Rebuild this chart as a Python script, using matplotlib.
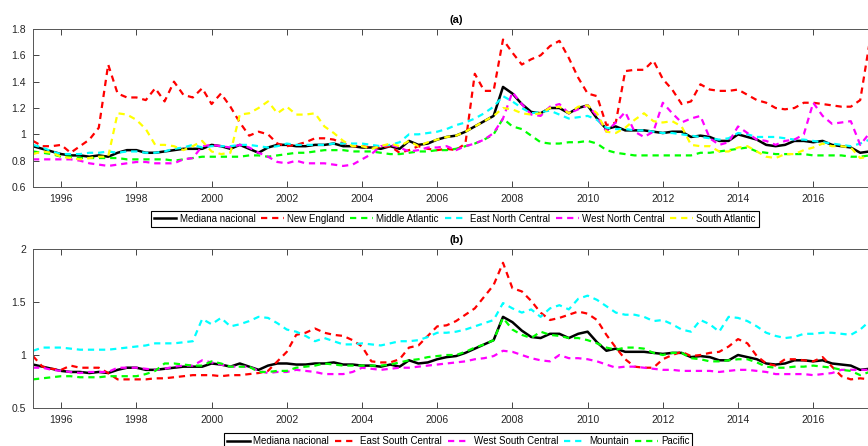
import numpy as np
import matplotlib
matplotlib.use("Agg")
import matplotlib.pyplot as plt
from matplotlib.ticker import FuncFormatter

plt.rcParams['font.family'] = ['Liberation Sans', 'DejaVu Sans']
plt.rcParams['lines.scale_dashes'] = False

# quarterly dates, 1995Q2 .. 2017Q3
trimestres = np.arange(1995.25, 2017.51, 0.25)

mediana = [0.91, 0.89, 0.87,
           0.85, 0.84, 0.84, 0.83,  0.84, 0.83, 0.86, 0.88,  0.88, 0.86, 0.86, 0.87,
           0.88, 0.89, 0.89, 0.89,  0.92, 0.91, 0.89, 0.92,  0.89, 0.86, 0.90, 0.92,
           0.92, 0.91, 0.91, 0.92,  0.92, 0.93, 0.91, 0.91,  0.90, 0.90, 0.89, 0.91,
           0.89, 0.95, 0.92, 0.93,  0.96, 0.98, 0.99, 1.02,  1.06, 1.10, 1.14, 1.36,
           1.31, 1.23, 1.17, 1.16,  1.20, 1.20, 1.16, 1.20,  1.22, 1.12, 1.04, 1.06,
           1.03, 1.03, 1.03, 1.02,  1.01, 1.02, 1.02, 0.98,  0.99, 0.98, 0.95, 0.95,
           1.00, 0.98, 0.96, 0.92,  0.91, 0.92, 0.95, 0.95,  0.94, 0.95, 0.92, 0.91,
           0.90, 0.86, 0.87]

# panel (a)
new_england = [0.95, 0.91, 0.91,
               0.92, 0.86, 0.91, 0.96,  1.05, 1.53, 1.31, 1.28,  1.28, 1.26, 1.35, 1.25,
               1.40, 1.30, 1.28, 1.35,  1.23, 1.31, 1.21, 1.09,  0.99, 1.02, 1.00, 0.93,
               0.91, 0.92, 0.94, 0.97,  0.97, 0.96, 0.93, 0.91,  0.91, 0.90, 0.90, 0.91,
               0.86, 0.88, 0.91, 0.89,  0.88, 0.89, 0.88, 0.93,  1.46, 1.33, 1.33, 1.72,
               1.62, 1.53, 1.57, 1.60,  1.67, 1.71, 1.58, 1.43,  1.31, 1.29, 1.07, 1.09,
               1.48, 1.49, 1.49, 1.56,  1.42, 1.34, 1.23, 1.25,  1.38, 1.34, 1.33, 1.33,
               1.34, 1.30, 1.26, 1.24,  1.20, 1.19, 1.20, 1.24,  1.24, 1.23, 1.22, 1.21,
               1.21, 1.26, 1.70]

middle_atlantic = [0.87, 0.86, 0.85,
                   0.83, 0.83, 0.82, 0.82,  0.82, 0.82, 0.82, 0.81,  0.81, 0.81, 0.81, 0.81,
                   0.80, 0.81, 0.82, 0.83,  0.83, 0.83, 0.83, 0.83,  0.84, 0.84, 0.83, 0.84,
                   0.85, 0.86, 0.86, 0.87,  0.88, 0.88, 0.88, 0.87,  0.87, 0.87, 0.86, 0.85,
                   0.85, 0.86, 0.87, 0.87,  0.88, 0.88, 0.89, 0.91,  0.93, 0.96, 1.00, 1.12,
                   1.06, 1.04, 0.99, 0.94,  0.93, 0.93, 0.94, 0.94,  0.95, 0.93, 0.88, 0.86,
                   0.85, 0.84, 0.84, 0.84,  0.84, 0.84, 0.84, 0.84,  0.86, 0.86, 0.87, 0.88,
                   0.89, 0.90, 0.87, 0.86,  0.85, 0.85, 0.85, 0.85,  0.84, 0.84, 0.84, 0.84,
                   0.83, 0.83, 0.84]

east_north_central = [0.92, 0.90, 0.87,
                      0.85, 0.85, 0.85, 0.86,  0.86, 0.87, 0.86, 0.87,  0.87, 0.86, 0.86, 0.87,
                      0.89, 0.90, 0.92, 0.90,  0.91, 0.91, 0.91, 0.92,  0.92, 0.91, 0.90, 0.91,
                      0.93, 0.92, 0.92, 0.92,  0.92, 0.93, 0.93, 0.93,  0.93, 0.92, 0.91, 0.92,
                      0.94, 1.00, 1.00, 1.01,  1.02, 1.04, 1.07, 1.09,  1.12, 1.16, 1.21, 1.29,
                      1.25, 1.20, 1.16, 1.17,  1.18, 1.15, 1.12, 1.13,  1.14, 1.11, 1.05, 1.04,
                      1.04, 1.03, 1.03, 1.02,  1.01, 1.01, 1.00, 0.99,  0.98, 0.97, 0.96, 0.97,
                      1.01, 1.00, 0.98, 0.98,  0.98, 0.97, 0.96, 0.96,  0.95, 0.94, 0.93, 0.92,
                      0.91, 0.93, 0.96]

west_north_central = [0.81, 0.81, 0.81,
                      0.81, 0.81, 0.80, 0.78,  0.77, 0.76, 0.77, 0.78,  0.79, 0.79, 0.78, 0.78,
                      0.78, 0.81, 0.82, 0.91,  0.92, 0.91, 0.90, 0.92,  0.90, 0.86, 0.83, 0.79,
                      0.78, 0.80, 0.78, 0.78,  0.78, 0.77, 0.76, 0.77,  0.81, 0.85, 0.91, 0.92,
                      0.90, 0.87, 0.88, 0.90,  0.90, 0.91, 0.88, 0.91,  0.93, 0.96, 1.01, 1.12,
                      1.32, 1.23, 1.15, 1.14,  1.21, 1.23, 1.16, 1.19,  1.22, 1.14, 1.02, 1.09,
                      1.17, 1.02, 0.98, 1.02,  1.24, 1.16, 1.09, 1.12,  1.14, 0.97, 0.92, 0.94,
                      1.06, 1.01, 0.96, 0.95,  0.92, 0.95, 0.96, 1.00,  1.24, 1.14, 1.08, 1.09,
                      1.10, 0.92, 1.01]

south_atlantic = [0.85, 0.87, 0.86,
                  0.83, 0.82, 0.81, 0.82,  0.83, 0.83, 1.16, 1.15,  1.11, 1.04, 0.92, 0.92,
                  0.91, 0.88, 0.91, 0.95,  0.87, 0.85, 0.86, 1.15,  1.16, 1.20, 1.25, 1.16,
                  1.21, 1.15, 1.15, 1.16,  1.06, 1.01, 0.95, 0.91,  0.91, 0.89, 0.91, 0.93,
                  0.91, 0.95, 0.91, 0.94,  0.96, 0.98, 0.99, 1.02,  1.06, 1.10, 1.14, 1.20,
                  1.19, 1.16, 1.15, 1.16,  1.20, 1.21, 1.16, 1.21,  1.22, 1.16, 1.02, 1.01,
                  1.05, 1.11, 1.16, 1.10,  1.09, 1.10, 1.06, 0.92,  0.91, 0.91, 0.87, 0.87,
                  0.90, 0.91, 0.87, 0.83,  0.82, 0.85, 0.85, 0.88,  0.90, 0.93, 0.91, 0.91,
                  0.90, 0.82, 0.83]

# panel (b)
east_south_central = [0.99, 0.89, 0.87,
                      0.86, 0.90, 0.88, 0.88,  0.88, 0.83, 0.77, 0.77,  0.77, 0.77, 0.78, 0.78,
                      0.79, 0.80, 0.81, 0.81,  0.81, 0.80, 0.81, 0.81,  0.82, 0.83, 0.85, 0.94,
                      1.03, 1.19, 1.21, 1.25,  1.21, 1.19, 1.18, 1.14,  1.08, 0.94, 0.93, 0.93,
                      0.96, 1.07, 1.09, 1.18,  1.27, 1.28, 1.32, 1.38,  1.44, 1.55, 1.66, 1.87,
                      1.63, 1.60, 1.51, 1.40,  1.33, 1.35, 1.38, 1.41,  1.39, 1.33, 1.19, 1.07,
                      0.96, 0.89, 0.88, 0.88,  0.96, 1.00, 1.03, 0.99,  1.00, 1.02, 1.03, 1.08,
                      1.15, 1.11, 0.99, 0.92,  0.90, 0.96, 0.96, 0.95,  0.94, 0.98, 0.89, 0.80,
                      0.77, 0.78, 0.77]

west_south_central = [0.88, 0.88, 0.86,
                      0.85, 0.84, 0.83, 0.84,  0.84, 0.84, 0.88, 0.88,  0.88, 0.87, 0.86, 0.87,
                      0.89, 0.90, 0.90, 0.95,  0.93, 0.91, 0.89, 0.89,  0.89, 0.85, 0.83, 0.84,
                      0.84, 0.86, 0.85, 0.84,  0.82, 0.82, 0.82, 0.84,  0.88, 0.87, 0.86, 0.87,
                      0.88, 0.88, 0.89, 0.90,  0.91, 0.92, 0.93, 0.94,  0.96, 0.97, 0.99, 1.04,
                      1.03, 1.00, 0.97, 0.95,  0.94, 1.00, 0.97, 0.97,  0.96, 0.94, 0.91, 0.88,
                      0.89, 0.89, 0.88, 0.87,  0.86, 0.86, 0.85, 0.85,  0.85, 0.85, 0.84, 0.85,
                      0.86, 0.86, 0.85, 0.84,  0.82, 0.82, 0.82, 0.82,  0.81, 0.82, 0.83, 0.86,
                      0.86, 0.86, 0.86]

mountain = [1.04, 1.07, 1.07,
            1.07, 1.06, 1.05, 1.05,  1.05, 1.05, 1.06, 1.07,  1.08, 1.09, 1.11, 1.11,
            1.11, 1.12, 1.13, 1.34,  1.29, 1.35, 1.27, 1.29,  1.32, 1.36, 1.35, 1.30,
            1.24, 1.22, 1.18, 1.13,  1.16, 1.13, 1.10, 1.10,  1.11, 1.10, 1.09, 1.11,
            1.13, 1.13, 1.14, 1.17,  1.21, 1.21, 1.22, 1.24,  1.27, 1.30, 1.33, 1.49,
            1.44, 1.40, 1.43, 1.36,  1.44, 1.47, 1.43, 1.53,  1.56, 1.52, 1.46, 1.40,
            1.38, 1.38, 1.36, 1.32,  1.33, 1.29, 1.24, 1.22,  1.33, 1.29, 1.22, 1.36,
            1.35, 1.32, 1.27, 1.21,  1.18, 1.16, 1.17, 1.20,  1.20, 1.21, 1.21, 1.20,
            1.19, 1.24, 1.32]

pacific = [0.77, 0.78, 0.79,
           0.80, 0.80, 0.79, 0.79,  0.79, 0.80, 0.80, 0.80,  0.80, 0.82, 0.85, 0.92,
           0.92, 0.91, 0.90, 0.90,  0.94, 0.92, 0.89, 0.89,  0.89, 0.84, 0.84, 0.85,
           0.85, 0.88, 0.89, 0.90,  0.92, 0.91, 0.90, 0.90,  0.90, 0.90, 0.90, 0.91,
           0.93, 0.95, 0.96, 0.98,  0.99, 1.00, 1.00, 1.03,  1.07, 1.10, 1.14, 1.35,
           1.24, 1.19, 1.16, 1.22,  1.19, 1.18, 1.16, 1.16,  1.14, 1.11, 1.07, 1.05,
           1.07, 1.07, 1.06, 1.02,  1.00, 1.02, 1.02, 0.97,  0.96, 0.94, 0.94, 0.95,
           0.96, 0.96, 0.93, 0.89,  0.88, 0.88, 0.89, 0.89,  0.90, 0.89, 0.88, 0.86,
           0.85, 0.81, 0.84]

RED, GREEN, CYAN, MAGENTA, YELLOW = "#ff0000", "#00ff00", "#00ffff", "#ff00ff", "#ffff00"

series_a = [("New England", new_england, RED),
            ("Middle Atlantic", middle_atlantic, GREEN),
            ("East North Central", east_north_central, CYAN),
            ("West North Central", west_north_central, MAGENTA),
            ("South Atlantic", south_atlantic, YELLOW)]
series_b = [("East South Central", east_south_central, RED),
            ("West South Central", west_south_central, MAGENTA),
            ("Mountain", mountain, CYAN),
            ("Pacific", pacific, GREEN)]

dash = (0, (4.5, 3.5))
fmt = FuncFormatter(lambda v, p: "%g" % v)

fig = plt.figure(figsize=(8.68, 4.46), dpi=100)
ax1 = fig.add_axes([0.038, 0.5807, 0.9747, 0.3543])
ax2 = fig.add_axes([0.038, 0.0852, 0.9747, 0.3565])


def draw_panel(ax, series, title, yticks, legend_y, legend_x):
    # national median first, regional dashed lines drawn over it
    ax.plot(trimestres, mediana, color="k", lw=1.8, label="Mediana nacional")
    for name, vals, col in series:
        ax.plot(trimestres, vals, color=col, lw=1.6, linestyle=dash, label=name)
    ax.set_xlim(1995.25, 2017.75)
    ax.set_ylim(yticks[0], yticks[-1])
    ax.set_xticks(np.arange(1996, 2017, 2))
    ax.set_yticks(yticks)
    ax.yaxis.set_major_formatter(fmt)
    ax.tick_params(direction="in", length=4, width=0.6, top=True, right=True,
                   labelsize=7.5, colors="#262626", pad=5)
    for sp in ax.spines.values():
        sp.set_color("#555555")
        sp.set_linewidth(0.7)
    ax.set_title(title, fontsize=8, fontweight="bold", pad=4)
    leg = ax.legend(loc="upper center", bbox_to_anchor=(legend_x, legend_y),
                    bbox_transform=fig.transFigure, ncol=len(series) + 1,
                    fontsize=7, frameon=True, fancybox=False, framealpha=1,
                    edgecolor="black", handlelength=2.3, handletextpad=0.35,
                    columnspacing=0.6, borderpad=0.3, borderaxespad=0)
    leg.get_frame().set_linewidth(0.8)


draw_panel(ax1, series_a, "(a)", [0.6, 0.8, 1.0, 1.2, 1.4, 1.6, 1.8], 0.527, 0.524)
draw_panel(ax2, series_b, "(b)", [0.5, 1.0, 1.5, 2.0], 0.029, 0.528)

fig.savefig("out.png", dpi=100)
